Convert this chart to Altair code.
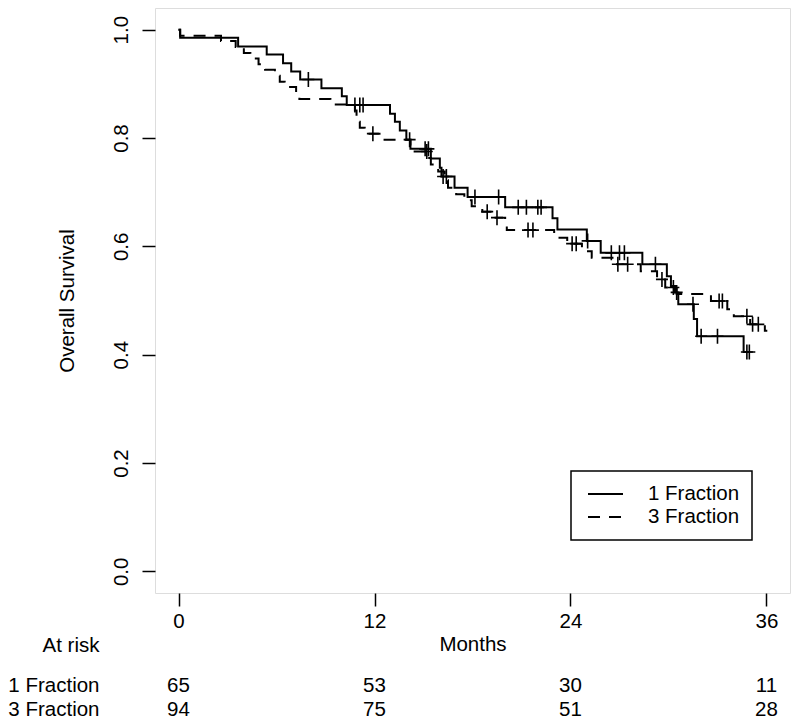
import altair as alt
import pandas as pd
import bisect

# ---- data ----
series_names = ["1 Fraction", "3 Fraction"]

t1 = [0, 0.1, 3.65, 5.4, 6.4, 6.9, 7.45, 8.75, 10.0, 10.3, 12.95, 13.25, 13.55, 13.95, 14.2,
      15.45, 16.0, 16.1, 16.9, 17.7, 20.0, 22.9, 23.2, 25.0, 25.85, 28.4, 29.9, 30.15, 30.4,
      30.6, 31.55, 31.75, 34.6, 34.95]
s1 = [1.0, 0.985, 0.969, 0.954, 0.938, 0.923, 0.908, 0.892, 0.877, 0.861, 0.845, 0.830, 0.814,
      0.797, 0.780, 0.762, 0.745, 0.729, 0.708, 0.691, 0.672, 0.652, 0.631, 0.610, 0.588, 0.567,
      0.545, 0.527, 0.515, 0.493, 0.466, 0.434, 0.405, 0.405]
c1 = [7.95, 10.8, 11.1, 11.3, 14.15, 15.1, 15.3, 16.2, 16.4, 18.15, 19.6, 20.8, 21.3, 22.0, 22.2,
      25.05, 26.5, 27.0, 27.3, 29.2, 30.5, 31.5, 32.0, 33.0, 34.8, 34.95]

t3 = [0, 0.1, 2.6, 3.5, 4.0, 4.4, 4.9, 5.3, 5.9, 6.2, 6.5, 7.2, 7.4, 9.3, 10.8, 10.9, 11.0, 11.1,
      11.4, 12.45, 14.2, 14.3, 15.35, 15.45, 15.9, 16.3, 16.5, 17.0, 17.5, 17.95, 18.6, 19.2,
      20.0, 20.1, 23.0, 23.8, 24.7, 25.3, 26.7, 28.3, 29.3, 29.8, 30.5, 32.6, 33.6, 34.0, 35.0,
      35.9, 36.05]
s3 = [1.0, 0.989, 0.979, 0.968, 0.957, 0.947, 0.936, 0.926, 0.915, 0.904, 0.894, 0.883, 0.872,
      0.862, 0.851, 0.840, 0.830, 0.819, 0.808, 0.797, 0.786, 0.775, 0.763, 0.751, 0.738, 0.722,
      0.708, 0.696, 0.685, 0.674, 0.664, 0.653, 0.641, 0.630, 0.616, 0.605, 0.591, 0.579, 0.567,
      0.554, 0.539, 0.524, 0.512, 0.499, 0.484, 0.471, 0.456, 0.444, 0.444]
c3 = [11.9, 15.2, 18.9, 19.5, 21.4, 21.7, 24.1, 24.35, 26.9, 27.5, 29.6, 30.3, 33.1, 33.3, 34.8,
      35.15, 35.5]

risk_times = [0, 12, 24, 36]
risk_1 = [65, 53, 30, 11]
risk_3 = [94, 75, 51, 28]

x_ticks = [0, 12, 24, 36]
y_ticks = [0.0, 0.2, 0.4, 0.6, 0.8, 1.0]

FONT = "Liberation Sans"
FS = 20.5

# ---- tables ----
curve = pd.DataFrame(
    [{"t": t, "s": s, "group": series_names[0]} for t, s in zip(t1, s1)]
    + [{"t": t, "s": s, "group": series_names[1]} for t, s in zip(t3, s3)]
)


def level(ts, ss, c):
    i = bisect.bisect_right(ts, c) - 1
    return ss[max(i, 0)]


cens = pd.DataFrame(
    [{"t": c, "s": level(t1, s1, c), "group": series_names[0]} for c in c1]
    + [{"t": c, "s": level(t3, s3, c), "group": series_names[1]} for c in c3]
)

risk1 = pd.DataFrame({"t": risk_times, "n": risk_1})
risk3 = pd.DataFrame({"t": risk_times, "n": risk_3})

xscale = alt.Scale(domain=[-1.44, 37.44], nice=False, zero=False)
yscale = alt.Scale(domain=[-0.04, 1.04], nice=False, zero=False)
dash_scale = alt.Scale(domain=series_names, range=[[1, 0], [12, 9]])

X = alt.X("t:Q", scale=xscale,
          axis=alt.Axis(values=x_ticks, title="Months", tickSize=13, tickWidth=1.5,
                        tickColor="black", labelPadding=5, titlePadding=3, domain=False,
                        grid=False, labelColor="black", titleColor="black",
                        labelFontSize=FS, titleFontSize=FS, titleFontWeight="normal",
                        labelFont=FONT, titleFont=FONT, labelFlush=False))
Y = alt.Y("s:Q", scale=yscale,
          axis=alt.Axis(values=y_ticks, format=".1f", title="Overall Survival", tickSize=13,
                        tickWidth=1.5, tickColor="black", labelAngle=270, labelAlign="center",
                        labelBaseline="alphabetic", labelPadding=15, domain=False, grid=False,
                        labelColor="black", titleColor="black", labelFontSize=FS,
                        titleFontSize=FS, titleFontWeight="normal", labelFont=FONT,
                        titleFont=FONT, titleAngle=270, titleAlign="center",
                        titleBaseline="alphabetic", titleX=-82, titleY=292.5,
                        labelFlush=False))

lines = alt.Chart(curve).mark_line(interpolate="step-after", color="black", strokeWidth=2).encode(
    x=X, y=Y,
    strokeDash=alt.StrokeDash("group:N", scale=dash_scale, legend=None),
)

marks = alt.Chart(cens).mark_point(
    shape="M -0.8 0 L 0.8 0 M 0 -1 L 0 1", filled=False, color="black", strokeWidth=1.6,
    size=225, opacity=1,
).encode(x="t:Q", y="s:Q")

row1 = alt.Chart(risk1).mark_text(font=FONT, fontSize=FS, align="center",
                                  baseline="alphabetic", color="black").encode(
    x="t:Q", y=alt.value(683.5), text="n:Q")
row3 = alt.Chart(risk3).mark_text(font=FONT, fontSize=FS, align="center",
                                  baseline="alphabetic", color="black").encode(
    x="t:Q", y=alt.value(708), text="n:Q")

labels = pd.DataFrame({"lab": ["At risk", series_names[0], series_names[1]],
                       "yy": [644, 683.5, 708]})
lab_chart = alt.Chart(labels).mark_text(font=FONT, fontSize=FS, align="right",
                                        baseline="alphabetic", color="black").encode(
    x=alt.value(-55.5), y=alt.Y("yy:Q", scale=None, axis=None), text="lab:N")

# ---- legend (boxed, R style) ----
leg_df = pd.DataFrame({"group": series_names, "ly": [486, 509]})
leg_box = alt.Chart(pd.DataFrame({"k": [0]})).mark_rect(
    fill="white", stroke="black", strokeWidth=1.5).encode(
    x=alt.value(416), x2=alt.value(597), y=alt.value(463), y2=alt.value(532))
leg_lines = alt.Chart(leg_df).mark_rule(color="black", strokeWidth=2).encode(
    x=alt.value(433), x2=alt.value(468), y=alt.Y("ly:Q", scale=None, axis=None),
    strokeDash=alt.StrokeDash("group:N", scale=dash_scale, legend=None))
leg_text = alt.Chart(leg_df).mark_text(font=FONT, fontSize=FS, align="left",
                                       baseline="middle", color="black").encode(
    x=alt.value(493), y=alt.Y("ly:Q", scale=None, axis=None), text="group:N")

chart = alt.layer(lines, marks, row1, row3, lab_chart, leg_box, leg_lines, leg_text).properties(
    width=635, height=585,
    padding={"left": 147, "top": 0, "right": 2, "bottom": 128},
    autosize=alt.AutoSizeParams(type="none"),
).configure_view(stroke="black", strokeWidth=1.6).configure(background="white")

chart.save("out.html", embed_options={"renderer": "svg", "actions": False})
